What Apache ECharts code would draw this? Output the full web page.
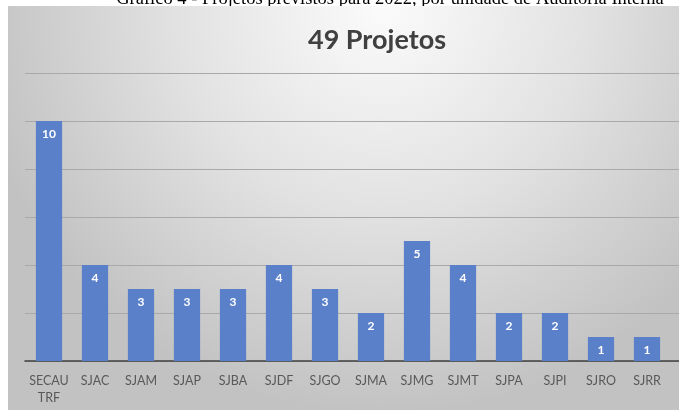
<!DOCTYPE html>
<html>
<head>
<meta charset="utf-8">
<script src="https://cdn.jsdelivr.net/npm/echarts@6/dist/echarts.min.js"></script>
<style>html,body{margin:0;padding:0;background:#fff;}#c{width:679px;height:410px;}</style>
</head>
<body>
<div id="c"></div>
<script>
const categories = ['SECAU\nTRF','SJAC','SJAM','SJAP','SJBA','SJDF','SJGO','SJMA','SJMG','SJMT','SJPA','SJPI','SJRO','SJRR'];
const projetos = [10,4,3,3,3,4,3,2,5,4,2,2,1,1];
const titleText = '49 Projetos';
const captionText = 'Gráfico 4 - Projetos previstos para 2022, por unidade de Auditoria Interna';

const chart = echarts.init(document.getElementById('c'));
chart.setOption({
  animation: false,
  backgroundColor: '#ffffff',
  title: {
    text: titleText,
    left: 372, textAlign: 'center', top: 22,
    textStyle: {fontFamily: 'Lato', fontWeight: 'bold', fontSize: 27, color: '#404040'}
  },
  graphic: [
    {type: 'rect', z: -10, shape: {x: 8, y: 6, width: 680, height: 410},
     style: {fill: {type: 'radial', x: 0.55, y: 0.0, r: 1.0,
       colorStops: [{offset: 0, color: '#fbfbfb'}, {offset: 0.5, color: '#e2e2e2'}, {offset: 1, color: '#c2c2c2'}]}}},
    {type: 'text', z: -20, x: 390, y: 9,
     style: {text: captionText, font: '18.5px "Liberation Serif"', fill: '#000', align: 'center', verticalAlign: 'bottom'}}
  ],
  grid: [
    {left: 25, right: 0, top: 73, bottom: 49},
    {left: 26, right: 9, top: 73, bottom: 49}
  ],
  xAxis: [
    {type: 'category', gridIndex: 0, data: categories,
     axisLine: {lineStyle: {color: '#404040', width: 1.5}},
     axisTick: {show: false}, axisLabel: {show: false}},
    {type: 'category', gridIndex: 1, data: categories,
     axisLine: {show: false}, axisTick: {show: false},
     axisLabel: {fontFamily: 'Lato', fontSize: 12.5, color: '#595959', margin: 11, lineHeight: 17, interval: 0}}
  ],
  yAxis: [
    {type: 'value', gridIndex: 0, min: 0, max: 12, interval: 2,
     axisLabel: {show: false}, axisLine: {show: false}, axisTick: {show: false},
     splitLine: {lineStyle: {color: '#a9a9a9', width: 1}}},
    {type: 'value', gridIndex: 1, min: 0, max: 12, interval: 2, show: false,
     splitLine: {show: false}}
  ],
  series: [{
    type: 'bar', xAxisIndex: 1, yAxisIndex: 1, data: projetos,
    barWidth: '57%',
    itemStyle: {color: '#5a80ca'},
    label: {show: true, position: 'insideTop', distance: 7, color: '#ffffff',
      fontFamily: 'Lato', fontSize: 12, fontWeight: 'bold'}
  }]
});
</script>
</body>
</html>
